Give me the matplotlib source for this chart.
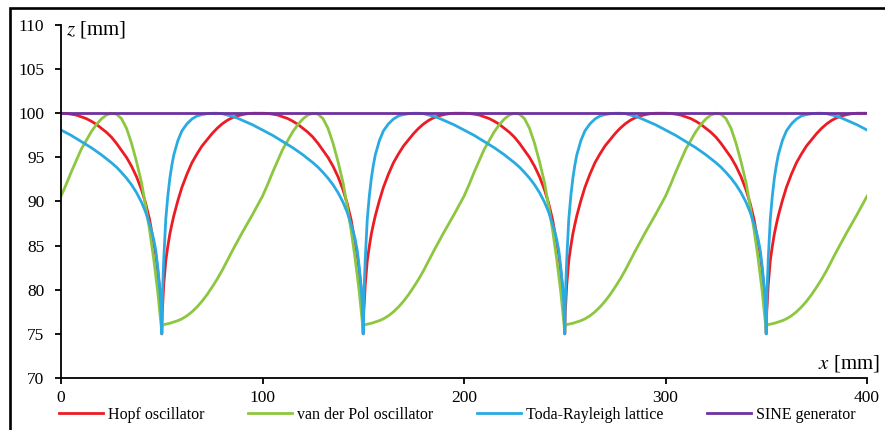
import numpy as np
import matplotlib.pyplot as plt
from matplotlib.patches import Rectangle

plt.rcParams['font.family'] = ['Liberation Serif', 'DejaVu Serif']
plt.rcParams['mathtext.fontset'] = 'stix'

# one period of each curve (x offset inside a 100 mm period)
x_offset = [0, 2.5, 5, 7.5, 10, 12.5, 15, 17.5, 20, 22.5, 25, 27.5, 30, 32.5, 35, 37.5,
            40, 42, 44, 45, 46, 47, 48, 49, 49.5, 50,
            50.25, 50.5, 51, 52, 53, 54, 55, 56, 58, 60, 62.5, 65, 67.5, 70, 72.5,
            75, 77.5, 80, 82.5, 85, 87.5, 90, 92.5, 95, 97.5]
hopf = [100, 99.98, 99.9, 99.8, 99.6, 99.4, 99.1, 98.75, 98.3, 97.85, 97.3, 96.6, 95.8, 95.0, 94.0, 92.8,
        91.3, 89.8, 87.9, 86.6, 85.3, 84.0, 82.2, 80.0, 78.3, 75,
        77.6, 78.5, 80.6, 83.3, 84.9, 86.3, 87.4, 88.4, 90.1, 91.6, 93.1, 94.4, 95.4, 96.3, 97.0,
        97.7, 98.3, 98.8, 99.2, 99.5, 99.7, 99.85, 99.95, 100, 100]
vdpol = [90.6, 91.9, 93.3, 94.6, 95.9, 96.9, 97.9, 98.7, 99.35, 99.8, 100, 99.9, 99.4, 98.3, 96.6, 94.5,
         92.1, 89.5, 86.7, 85.1, 83.5, 81.7, 79.8, 77.6, 76.4, 75.2,
         76.0, 76.02, 76.05, 76.1, 76.15, 76.2, 76.27, 76.35, 76.5, 76.7, 77.05, 77.5, 78.05, 78.7, 79.45,
         80.3, 81.2, 82.2, 83.3, 84.4, 85.45, 86.5, 87.5, 88.5, 89.55]
toda = [98.1, 97.8, 97.5, 97.15, 96.8, 96.45, 96.1, 95.7, 95.3, 94.85, 94.4, 93.9, 93.3, 92.65, 91.9, 91.0,
        89.9, 88.8, 87.4, 86.6, 85.7, 84.5, 82.6, 80.2, 78.5, 75,
        78.5, 80.5, 83.5, 88.0, 90.6, 92.6, 94.1, 95.3, 96.9, 98.0, 98.8, 99.35, 99.7, 99.85, 99.95,
        100, 100, 99.95, 99.8, 99.65, 99.45, 99.2, 98.95, 98.7, 98.4]
sine = [100, 100]
periods = [0, 100, 200, 300]

labels = ['Hopf oscillator', 'van der Pol oscillator', 'Toda-Rayleigh lattice', 'SINE generator']
colors = ['#ED1C24', '#8DC63F', '#29ABE2', '#7030A0']

def full(vals):
    # the four periods on the chart are identical, close with the first value at 400
    xs = [p + o for p in periods for o in x_offset] + [400]
    zs = list(vals) * len(periods) + [vals[0]]
    return xs, zs

fig = plt.figure(figsize=(8.85, 4.3), dpi=100)
ax = fig.add_axes([61/885, 52/430, 806/885, 353/430])

for vals, lab, c in zip([hopf, vdpol, toda], labels[:3], colors[:3]):
    xs, zs = full(vals)
    ax.plot(xs, zs, color=c, lw=2.0, label=lab)
ax.plot([0, 400], sine, color=colors[3], lw=2.0, label=labels[3])

ax.set_xlim(0, 400)
ax.set_ylim(70, 110)
ax.set_xticks([0, 100, 200, 300, 400])
ax.set_yticks(np.arange(70, 111, 5))
ax.spines['top'].set_visible(False)
ax.spines['right'].set_visible(False)
ax.spines['left'].set_linewidth(1.3)
ax.spines['bottom'].set_linewidth(1.3)
ax.tick_params(direction='out', length=4, width=1.3, labelsize=12.5)
ax.tick_params(axis='y', pad=8)
ax.tick_params(axis='x', pad=5)

ax.text(0.006, 0.986, '$z$ [mm]', transform=ax.transAxes, fontsize=15, va='center', ha='left')
ax.text(1.016, 0.042, '$x$ [mm]', transform=ax.transAxes, fontsize=15, va='center', ha='right',
        clip_on=False)

fig.legend(loc='center', bbox_to_anchor=(457/885, 1 - 415/430), ncol=4, frameon=False,
           fontsize=11.5, handlelength=2.75, handletextpad=0.3, columnspacing=2.75,
           borderaxespad=0, borderpad=0)

fig.patches.append(Rectangle((9.5/885, -0.1), 1.2, 1.1 - 7.5/430, transform=fig.transFigure,
                             fill=False, edgecolor='black', lw=1.9))

fig.savefig('out.png', dpi=100)
